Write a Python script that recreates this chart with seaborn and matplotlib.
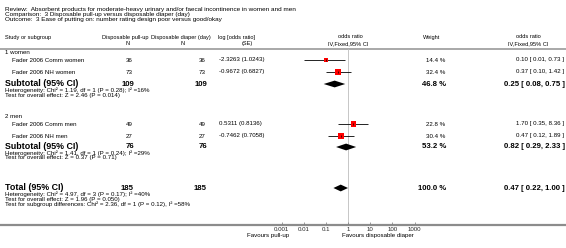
import matplotlib
matplotlib.use("Agg")
import matplotlib.pyplot as plt
import seaborn as sns
import numpy as np
import pandas as pd

# ---------------- data ----------------
review = "Absorbent products for moderate-heavy urinary and/or faecal incontinence in women and men"
comparison = "3 Disposable pull-up versus disposable diaper (day)"
outcome = "3 Ease of putting on: number rating design poor versus good/okay"

groups = ["1 women", "2 men"]
studies = ["Fader 2006 Comm women", "Fader 2006 NH women", "Fader 2006 Comm men", "Fader 2006 NH men"]
study_group = [0, 0, 1, 1]
n_pullup = [36, 73, 49, 27]
n_diaper = [36, 73, 49, 27]
log_or = [-2.3263, -0.9672, 0.5311, -0.7462]
se = [1.0243, 0.6827, 0.8136, 0.7058]
odds = [0.10, 0.37, 1.70, 0.47]
ci_low = [0.01, 0.10, 0.35, 0.12]
ci_high = [0.73, 1.42, 8.36, 1.89]
weights = [14.4, 32.4, 22.8, 30.4]

sub_n_pullup = [109, 76]
sub_n_diaper = [109, 76]
sub_odds = [0.25, 0.82]
sub_low = [0.08, 0.29]
sub_high = [0.75, 2.33]
sub_weight = [46.8, 53.2]
sub_het = ["Heterogeneity: Chi\u00b2 = 1.19, df = 1 (P = 0.28); I\u00b2 =16%",
           "Heterogeneity: Chi\u00b2 = 1.41, df = 1 (P = 0.24); I\u00b2 =29%"]
sub_test = ["Test for overall effect: Z = 2.46 (P = 0.014)",
            "Test for overall effect: Z = 0.37 (P = 0.71)"]

total_n_pullup = 185
total_n_diaper = 185
total_odds = 0.47
total_low = 0.22
total_high = 1.00
total_weight = 100.0
total_notes = ["Heterogeneity: Chi\u00b2 = 4.97, df = 3 (P = 0.17); I\u00b2 =40%",
               "Test for overall effect: Z = 1.96 (P = 0.050)",
               "Test for subgroup differences: Chi\u00b2 = 2.36, df = 1 (P = 0.12), I\u00b2 =58%"]

x_ticks = [0.001, 0.01, 0.1, 1, 10, 100, 1000]
x_tick_labels = ["0.001", "0.01", "0.1", "1", "10", "100", "1000"]
favours_left = "Favours pull-up"
favours_right = "Favours disposable diaper"

# ---------------- layout (pixels) ----------------
W, H = 566, 248
FONT = "Liberation Sans"
FS = 4.4       # regular text size
FSC = 4.1      # column headers
FSH = 4.6      # review/comparison/outcome
FSB = 5.6      # bold numbers
FSL = 6.4      # bold Subtotal / Total labels

sns.set_theme(style="white")
plt.rcParams["font.family"] = [FONT, "DejaVu Sans"]

fig = plt.figure(figsize=(W / 100, H / 100), dpi=100)
tx = fig.add_axes([0, 0, 1, 1])
tx.set_xlim(0, W)
tx.set_ylim(H, 0)
tx.axis("off")

def t(x, y, s, ha="left", bold=False, size=None):
    tx.text(x, y, s, ha=ha, va="center", fontsize=size or (FSB if bold else FS),
            fontweight="bold" if bold else "normal", color="black")

# header block
t(5, 9, "Review:  " + review, size=FSH)
t(5, 14.5, "Comparison:  " + comparison, size=FSH)
t(5, 20, "Outcome:  " + outcome, size=FSH)

hy1, hy2 = 37, 43.5
t(5, hy1, "Study or subgroup", size=FSC)
t(125, hy1, "Disposable pull-up", ha="center", size=FSC)
t(128, hy2, "N", ha="center", size=FSC)
t(181, hy1, "Disposable diaper (day)", ha="center", size=FSC)
t(183, hy2, "N", ha="center", size=FSC)
t(236, hy1, "log [odds ratio]", ha="center", size=FSC)
t(247, hy2, "(SE)", ha="center", size=FSC)
t(350, hy1, "odds ratio", ha="center", size=FSC)
t(348, hy2, "IV,Fixed,95% CI", ha="center", size=FSC)
t(432, hy1, "Weight", ha="center", size=FSC)
t(528, hy1, "odds ratio", ha="center", size=FSC)
t(528, hy2, "IV,Fixed,95% CI", ha="center", size=FSC)

RULE_Y = 49
AXIS_Y = 224
tx.plot([0, W], [RULE_Y, RULE_Y], color="#a8a8a8", lw=1.4, solid_capstyle="butt")
tx.plot([0, W], [AXIS_Y + 0.8, AXIS_Y + 0.8], color="#8c8c8c", lw=1.6, solid_capstyle="butt")

# row positions
group_label_y = [53, 117]
study_y = [60, 72, 124, 136]
sub_y = [84, 147]
total_y = 188

X_NP, X_ND, X_LOG, X_W, X_CI = 133, 206, 219, 445, 564

for g, gy in zip(groups, group_label_y):
    t(5, gy, g)

for i, name in enumerate(studies):
    y = study_y[i]
    t(12, y, name)
    t(X_NP, y, str(n_pullup[i]), ha="right")
    t(X_ND, y, str(n_diaper[i]), ha="right")
    t(X_LOG, y, f"{log_or[i]:.4f} ({se[i]:.4f})")
    t(X_W, y, f"{weights[i]:.1f} %", ha="right")
    t(X_CI, y, f"{odds[i]:.2f} [ {ci_low[i]:.2f}, {ci_high[i]:.2f} ]", ha="right")

for k in range(len(groups)):
    y = sub_y[k]
    t(5, y - 0.6, "Subtotal (95% CI)", bold=True, size=FSL)
    t(X_NP + 1, y, str(sub_n_pullup[k]), ha="right", bold=True)
    t(X_ND + 1, y, str(sub_n_diaper[k]), ha="right", bold=True)
    t(X_W + 1, y, f"{sub_weight[k]:.1f} %", ha="right", bold=True)
    t(X_CI + 1, y, f"{sub_odds[k]:.2f} [ {sub_low[k]:.2f}, {sub_high[k]:.2f} ]", ha="right", bold=True)
    t(5, y + 6, sub_het[k])
    t(5, y + 11, sub_test[k])

t(5, total_y - 0.6, "Total (95% CI)", bold=True, size=FSL)
t(X_NP + 1, total_y, str(total_n_pullup), ha="right", bold=True)
t(X_ND + 1, total_y, str(total_n_diaper), ha="right", bold=True)
t(X_W + 1, total_y, f"{total_weight:.1f} %", ha="right", bold=True)
t(X_CI + 1, total_y, f"{total_odds:.2f} [ {total_low:.2f}, {total_high:.2f} ]", ha="right", bold=True)
for j, note in enumerate(total_notes):
    t(5, total_y + 6 + 5 * j, note)

t(289, 236, favours_left, ha="right")
t(342, 236, favours_right, ha="left")

# ---------------- forest axes ----------------
X0, X1 = 281.5, 414.5
ax = fig.add_axes([X0 / W, 1 - AXIS_Y / H, (X1 - X0) / W, (AXIS_Y - RULE_Y) / H])
ax.patch.set_alpha(0)
ax.set_xscale("log")
ax.set_xlim(x_ticks[0], x_ticks[-1])
ax.set_ylim(AXIS_Y, RULE_Y)
for sp in ax.spines.values():
    sp.set_visible(False)
ax.set_yticks([])
ax.set_xticks(x_ticks)
ax.set_xticklabels(x_tick_labels)
ax.minorticks_off()
ax.tick_params(axis="x", direction="in", length=1.5, width=0.5, color="#777777",
               labelsize=FS, pad=2.2, bottom=True)

ax.axvline(1, color="#bdbdbd", lw=0.6, zorder=0)

df = pd.DataFrame({"odds": odds, "y": study_y, "w": weights, "lo": ci_low, "hi": ci_high})
ax.hlines(df["y"], df["lo"], df["hi"], color="black", lw=0.6, zorder=2)
sns.scatterplot(data=df, x="odds", y="y", size="w", size_norm=(0, max(weights)),
                sizes=(0, 0.6 * max(weights)), marker="s", color="#ff0000",
                edgecolor="none", legend=False, ax=ax, zorder=3)
ax.scatter(df["odds"], df["y"], marker="|", s=2.5, color="black", lw=0.5, zorder=4)
ax.set_xlabel("")
ax.set_ylabel("")

def diamond(est, lo, hi, y, half=3.4):
    ax.fill([lo, est, hi, est], [y, y - half, y, y + half], color="black", lw=0, zorder=3)

for k in range(len(groups)):
    diamond(sub_odds[k], sub_low[k], sub_high[k], sub_y[k])
diamond(total_odds, total_low, total_high, total_y)

fig.savefig("out.png", dpi=100)
